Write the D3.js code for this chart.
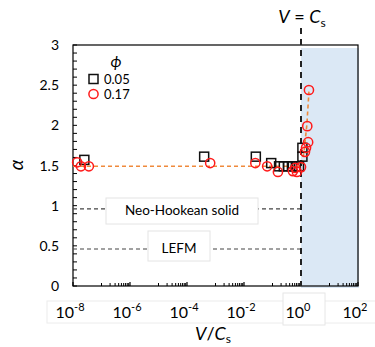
<!DOCTYPE html>
<html>
<head>
<meta charset="utf-8">
<script src="https://cdn.jsdelivr.net/npm/d3@7"></script>
<style>
  body { margin: 0; background: #fff; }
  svg { font-family: Lato, "Open Sans", sans-serif; }
</style>
</head>
<body>
<div id="chart"></div>
<script>
// data (V/Cs, alpha)
var phi05 = [
  [2.5e-8, 1.57], [4e-4, 1.61], [0.026, 1.61], [0.09, 1.53],
  [0.17, 1.49], [0.25, 1.49], [0.35, 1.49], [0.48, 1.49],
  [0.66, 1.49], [0.85, 1.49], [1.12, 1.61], [1.12, 1.72]
];
var phi17 = [
  [1.4e-8, 1.54], [1.9e-8, 1.49], [3.6e-8, 1.49], [6.5e-4, 1.53],
  [0.025, 1.53], [0.065, 1.49], [0.155, 1.42], [0.52, 1.43],
  [0.63, 1.47], [0.72, 1.42], [1.0, 1.48], [1.38, 1.67],
  [1.5, 1.72], [1.78, 1.79], [1.66, 1.99], [1.9, 2.44]
];
var fitLine = [[1e-8, 1.49], [1.07, 1.49], [1.3, 1.7], [1.6, 2.0], [1.9, 2.42]];
var neoHookean = 0.96;
var lefm = 0.46;
var xTickExp = [-8, -6, -4, -2, 0, 2];
var yTicks = [0, 0.5, 1, 1.5, 2, 2.5, 3];

var W = 375, H = 347;
var svg = d3.select("#chart").append("svg")
    .attr("width", W).attr("height", H);

var x = d3.scaleLog().domain([1e-8, 1e2]).range([73, 358]);
var y = d3.scaleLinear().domain([0, 3]).range([286, 45]);

// shaded V > Cs region
svg.append("rect")
    .attr("x", x(1)).attr("y", 48)
    .attr("width", 359 - x(1)).attr("height", 288 - 48)
    .attr("fill", "#dbe8f5");

// frame
svg.append("rect")
    .attr("x", x(1e-8)).attr("y", y(3))
    .attr("width", x(1e2) - x(1e-8)).attr("height", y(0) - y(3))
    .attr("fill", "none").attr("stroke", "#000").attr("stroke-width", 1.2);

// y ticks (inside)
var yMinor = d3.range(0, 3.001, 0.1);
svg.selectAll(".ytk").data(yMinor).enter().append("line")
    .attr("x1", x(1e-8)).attr("x2", function(d) { return x(1e-8) + 4; })
    .attr("y1", function(d) { return y(d); }).attr("y2", function(d) { return y(d); })
    .attr("stroke", "#000").attr("stroke-width", 1);

svg.selectAll(".ylab").data(yTicks).enter().append("text")
    .attr("x", 59).attr("y", function(d) { return y(d) + 5; })
    .attr("text-anchor", "end").attr("font-size", 14)
    .text(function(d) { return d; });

// x minor ticks: k*10^odd, and majors at 10^even
var xMinor = [];
[-7, -5, -3, -1, 1].forEach(function(e) {
  for (var k = 1; k <= 9; k++) xMinor.push(k * Math.pow(10, e));
});
svg.selectAll(".xtk").data(xMinor).enter().append("line")
    .attr("x1", function(d) { return x(d); }).attr("x2", function(d) { return x(d); })
    .attr("y1", y(0)).attr("y2", y(0) - 3)
    .attr("stroke", "#000").attr("stroke-width", 1);
svg.selectAll(".xmj").data(xTickExp).enter().append("line")
    .attr("x1", function(d) { return x(Math.pow(10, d)); }).attr("x2", function(d) { return x(Math.pow(10, d)); })
    .attr("y1", y(0)).attr("y2", y(0) - 4)
    .attr("stroke", "#000").attr("stroke-width", 1.2);

// faint label boxes
svg.append("rect").attr("x", 47).attr("y", 301).attr("width", 340).attr("height", 22)
    .attr("fill", "none").attr("stroke", "#ececec");
svg.append("rect").attr("x", 283).attr("y", 293).attr("width", 42).attr("height", 32)
    .attr("fill", "#fff").attr("stroke", "#e6e6e6");

var xl = svg.selectAll(".xlab").data(xTickExp).enter().append("text")
    .attr("x", function(d) { return x(Math.pow(10, d)) - 3; }).attr("y", 318)
    .attr("text-anchor", "middle").attr("font-size", 16);
xl.append("tspan").text("10");
xl.append("tspan").attr("font-size", 11).attr("dy", -7).text(function(d) { return d; });

// reference lines
svg.append("line")
    .attr("x1", x(1e-8)).attr("x2", x(1))
    .attr("y1", y(neoHookean)).attr("y2", y(neoHookean))
    .attr("stroke", "#444").attr("stroke-width", 1.1).attr("stroke-dasharray", "4,3");
svg.append("line")
    .attr("x1", x(1e-8)).attr("x2", x(1))
    .attr("y1", y(lefm)).attr("y2", y(lefm))
    .attr("stroke", "#444").attr("stroke-width", 1.1).attr("stroke-dasharray", "4,3");

svg.append("rect").attr("x", 106).attr("y", 198).attr("width", 152).attr("height", 26)
    .attr("fill", "#fff").attr("stroke", "#e4e4e4");
svg.append("text").attr("x", 182).attr("y", 215).attr("text-anchor", "middle")
    .attr("font-size", 13.5).text("Neo-Hookean solid");
svg.append("rect").attr("x", 148).attr("y", 231).attr("width", 62).attr("height", 30)
    .attr("fill", "#fff").attr("stroke", "#e4e4e4");
svg.append("text").attr("x", 179).attr("y", 253).attr("text-anchor", "middle")
    .attr("font-size", 13.5).text("LEFM");

// V = Cs line
svg.append("line")
    .attr("x1", x(1)).attr("x2", x(1)).attr("y1", 28).attr("y2", y(0))
    .attr("stroke", "#222").attr("stroke-width", 2).attr("stroke-dasharray", "6,5");

// fit line
var line = d3.line()
    .x(function(d) { return x(d[0]); })
    .y(function(d) { return y(d[1]); });
svg.append("path").datum(fitLine)
    .attr("d", line).attr("fill", "none")
    .attr("stroke", "#ef8a3c").attr("stroke-width", 1.6).attr("stroke-dasharray", "4,3");

// markers
svg.selectAll(".sq").data(phi05).enter().append("rect")
    .attr("x", function(d) { return x(d[0]) - 4.5; })
    .attr("y", function(d) { return y(d[1]) - 4.5; })
    .attr("width", 9).attr("height", 9)
    .attr("fill", "none").attr("stroke", "#111").attr("stroke-width", 1.5);
svg.selectAll(".ci").data(phi17).enter().append("circle")
    .attr("cx", function(d) { return x(d[0]); })
    .attr("cy", function(d) { return y(d[1]); })
    .attr("r", 4.6)
    .attr("fill", "none").attr("stroke", "#ff1a1a").attr("stroke-width", 1.5);

// legend
svg.append("text").attr("x", 116).attr("y", 67).attr("text-anchor", "middle")
    .attr("font-size", 16).attr("font-style", "italic").text("ϕ");
svg.append("rect").attr("x", 89).attr("y", 74.5).attr("width", 9).attr("height", 9)
    .attr("fill", "none").attr("stroke", "#111").attr("stroke-width", 1.5);
svg.append("text").attr("x", 104).attr("y", 83.5).attr("font-size", 13).text("0.05");
svg.append("circle").attr("cx", 93.5).attr("cy", 94).attr("r", 4.6)
    .attr("fill", "none").attr("stroke", "#ff1a1a").attr("stroke-width", 1.5);
svg.append("text").attr("x", 104).attr("y", 99).attr("font-size", 13).text("0.17");

// titles
var t = svg.append("text").attr("x", 302).attr("y", 23).attr("text-anchor", "middle")
    .attr("font-size", 18);
t.append("tspan").attr("font-style", "italic").text("V");
t.append("tspan").text(" = ");
t.append("tspan").attr("font-style", "italic").text("C");
t.append("tspan").attr("font-size", 12).attr("dy", 4).text("s");

var xt = svg.append("text").attr("x", 213).attr("y", 340).attr("text-anchor", "middle")
    .attr("font-size", 18);
xt.append("tspan").attr("font-style", "italic").text("V");
xt.append("tspan").text("/");
xt.append("tspan").attr("font-style", "italic").text("C");
xt.append("tspan").attr("font-size", 12).attr("dy", 3).text("s");

svg.append("text")
    .attr("transform", "translate(23,165) rotate(-90)")
    .attr("text-anchor", "middle").attr("font-size", 19).attr("font-style", "italic")
    .text("α");
</script>
</body>
</html>
